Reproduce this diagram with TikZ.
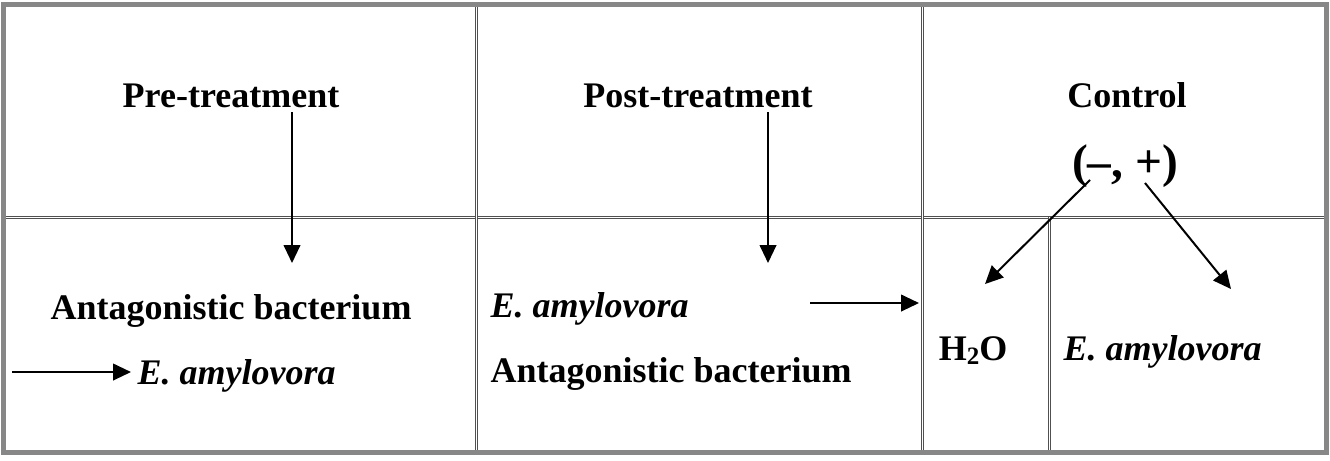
\documentclass[tikz,border=0pt]{standalone}
\usepackage{fontspec}
\setmainfont{Liberation Serif}
\usetikzlibrary{arrows.meta,positioning,calc}
\definecolor{gridgray}{RGB}{80,80,80}
\definecolor{framegray}{RGB}{135,135,135}

\begin{document}
\begin{tikzpicture}[x=0.3pt, y=-0.3pt,
    cell/.style={draw=gridgray, line width=0.3pt, double=white, double distance=0.3pt},
    frame/.style={draw=framegray, line width=1.5pt},
    txt/.style={font=\fontsize{10.8}{13}\selectfont\bfseries, anchor=base, inner sep=0pt},
    spec/.style={font=\fontsize{10.8}{13}\selectfont\bfseries\itshape, anchor=base west, inner sep=0pt},
    arr/.style={-{Triangle[length=5.4pt, width=5pt]}, line width=0.6pt}
]
\useasboundingbox (0,0) rectangle (1330,460);

% Table lines
\draw[cell] (3,217) -- (1326,217);
\foreach \x in {476,922} {
  \draw[cell] (\x,4) -- (\x,452);
}
\draw[cell] (1049,217) -- (1049,452);
\draw[frame] (3,4) rectangle (1326,452);

% Head row
\node[txt] (pre) at (231,107) {Pre-treatment};
\node[txt] (post) at (698,107) {Post-treatment};
\node[txt] (ctrl) at (1127,107) {Control};
\node[txt, font=\fontsize{14.2}{17}\selectfont\bfseries] (signs) at (1125,177) {(\textendash, +)};

% Body row
\node[txt] (antA) at (231,319) {Antagonistic bacterium};
\node[spec] (eamA) at (137,384) {E. amylovora};
\node[spec] (eamB) at (490,317) {E. amylovora};
\node[txt, anchor=base west] (antB) at (490,382) {Antagonistic bacterium};
\node[txt] (water) at (973,360) {H\raisebox{-0.25ex}{\fontsize{7.5}{9}\selectfont 2}O};
\node[spec] (eamC) at (1063,360) {E. amylovora};

% Arrow ends
\coordinate (preS) at (292,112);
\coordinate (preE) at (292,263);
\coordinate (postS) at (768,112);
\coordinate (postE) at (768,263);
\coordinate (leftS) at (12,372);
\coordinate (leftE) at (131,372);
\coordinate (midS) at (810,303);
\coordinate (midE) at (919,303);
\coordinate (minusS) at (1090,180);
\coordinate (minusE) at (985,284);
\coordinate (plusS) at (1145,183);
\coordinate (plusE) at (1231,289);

% Arrows
\draw[arr] (preS) -- (preE);
\draw[arr] (postS) -- (postE);
\draw[arr] (leftS) -- (leftE);
\draw[arr] (midS) -- (midE);
\draw[arr] (minusS) -- (minusE);
\draw[arr] (plusS) -- (plusE);

\end{tikzpicture}
\end{document}
